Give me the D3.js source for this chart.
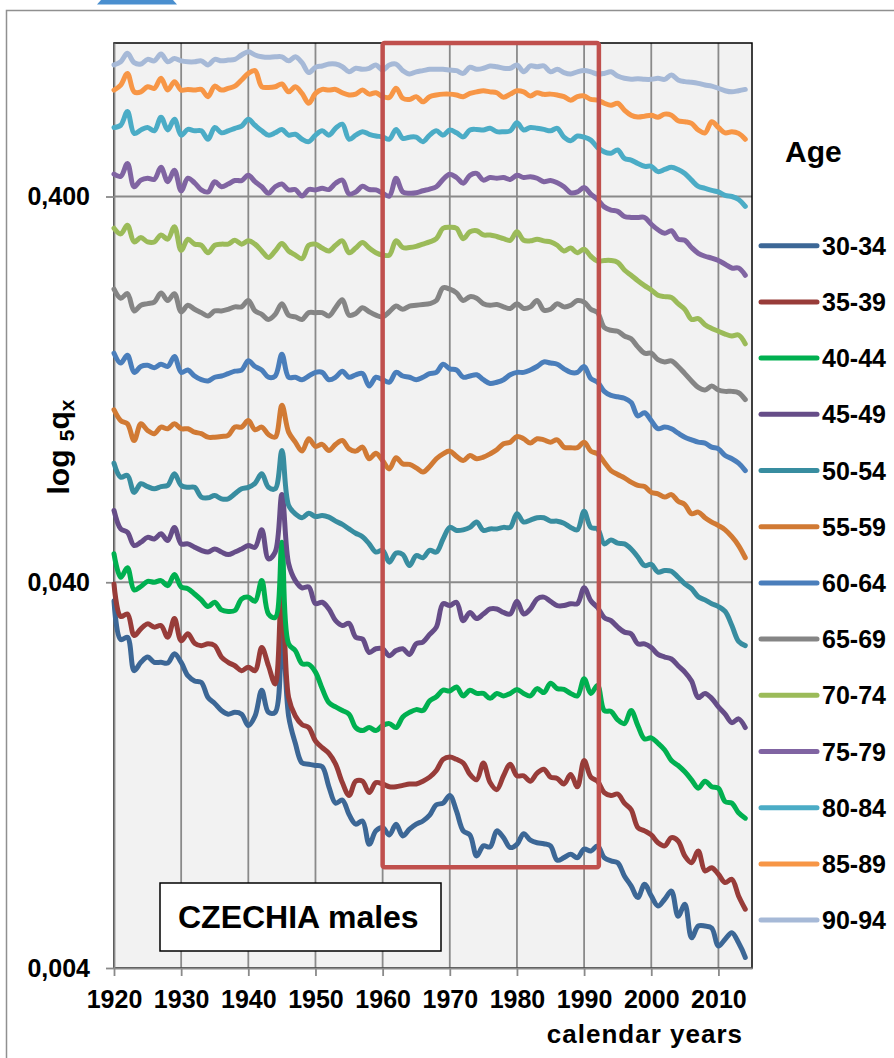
<!DOCTYPE html>
<html>
<head>
<meta charset="utf-8">
<script src="https://cdn.jsdelivr.net/npm/d3@7"></script>
<style>
  html, body { margin: 0; padding: 0; background: #fff; overflow: hidden; }
  svg { display: block; }
  text { font-family: "Liberation Sans", Arial, sans-serif; font-weight: bold; fill: #000; }
</style>
</head>
<body>
<svg id="chart" width="894" height="1058"></svg>
<script>
// probability of dying 5qx, Czechia males, one value per year 1920..2014
const firstYear = 1920, lastYear = 2014;
const years = d3.range(firstYear, lastYear + 1);
const ageGroups = ["30-34", "35-39", "40-44", "45-49", "50-54", "55-59", "60-64", "65-69", "70-74", "75-79", "80-84", "85-89", "90-94"];

const q30_34 = [0.0358, 0.0284, 0.0288, 0.0236, 0.0248, 0.0256, 0.0248, 0.0248, 0.0247, 0.0261,
  0.0248, 0.0229, 0.0222, 0.0220, 0.0201, 0.0194, 0.0186, 0.0182, 0.0184, 0.0182,
  0.0170, 0.0180, 0.0210, 0.0184, 0.0184, 0.0318, 0.0180, 0.0153, 0.0136, 0.0135,
  0.0134, 0.0133, 0.0118, 0.0107, 0.0109, 0.0100, 0.00944, 0.00962, 0.00837, 0.00907,
  0.00925, 0.00885, 0.00944, 0.00880, 0.00916, 0.00944, 0.00962, 0.00996, 0.0106, 0.0107,
  0.0112, 0.0102, 0.00907, 0.00885, 0.00781, 0.00829, 0.00824, 0.00907, 0.00871, 0.00821,
  0.00837, 0.00892, 0.00858, 0.00845, 0.00840, 0.00829, 0.00761, 0.00773, 0.00789, 0.00773,
  0.00813, 0.00804, 0.00829, 0.00773, 0.00758, 0.00750, 0.00693, 0.00653, 0.00609, 0.00659,
  0.00615, 0.00579, 0.00603, 0.00633, 0.00545, 0.00585, 0.00479, 0.00514, 0.00514, 0.00508,
  0.00456, 0.00475, 0.00494, 0.00465, 0.00426];
const q35_39 = [0.0396, 0.0326, 0.0331, 0.0291, 0.0303, 0.0312, 0.0306, 0.0309, 0.0288, 0.0322,
  0.0282, 0.0294, 0.0278, 0.0274, 0.0277, 0.0274, 0.0256, 0.0248, 0.0243, 0.0236,
  0.0241, 0.0236, 0.0271, 0.0243, 0.0218, 0.0396, 0.0201, 0.0180, 0.0171, 0.0168,
  0.0155, 0.0149, 0.0144, 0.0135, 0.0121, 0.0112, 0.0122, 0.0122, 0.0114, 0.0121,
  0.0120, 0.0118, 0.0118, 0.0119, 0.0120, 0.0120, 0.0122, 0.0125, 0.0130, 0.0139,
  0.0141, 0.0139, 0.0136, 0.0127, 0.0123, 0.0136, 0.0121, 0.0116, 0.0126, 0.0135,
  0.0126, 0.0126, 0.0122, 0.0128, 0.0131, 0.0125, 0.0124, 0.0120, 0.0127, 0.0118,
  0.0138, 0.0125, 0.0122, 0.0114, 0.0112, 0.0113, 0.0107, 0.0103, 0.00925, 0.00907,
  0.00885, 0.00845, 0.00829, 0.00871, 0.00854, 0.00781, 0.00750, 0.00804, 0.00714, 0.00728,
  0.00700, 0.00666, 0.00679, 0.00615, 0.00568];
const q40_44 = [0.0474, 0.0412, 0.0436, 0.0382, 0.0390, 0.0402, 0.0400, 0.0404, 0.0392, 0.0419,
  0.0389, 0.0385, 0.0373, 0.0360, 0.0346, 0.0355, 0.0339, 0.0336, 0.0338, 0.0362,
  0.0366, 0.0357, 0.0404, 0.0331, 0.0324, 0.0508, 0.0277, 0.0266, 0.0246, 0.0245,
  0.0234, 0.0212, 0.0195, 0.0190, 0.0186, 0.0182, 0.0168, 0.0165, 0.0168, 0.0165,
  0.0170, 0.0172, 0.0168, 0.0179, 0.0184, 0.0187, 0.0186, 0.0197, 0.0202, 0.0210,
  0.0209, 0.0214, 0.0203, 0.0210, 0.0206, 0.0206, 0.0200, 0.0206, 0.0203, 0.0206,
  0.0211, 0.0206, 0.0203, 0.0212, 0.0207, 0.0219, 0.0212, 0.0211, 0.0206, 0.0203,
  0.0225, 0.0206, 0.0216, 0.0186, 0.0185, 0.0176, 0.0172, 0.0186, 0.0170, 0.0157,
  0.0158, 0.0153, 0.0147, 0.0138, 0.0134, 0.0129, 0.0123, 0.0117, 0.0122, 0.0118,
  0.0117, 0.0108, 0.0107, 0.0101, 0.00978];
const q45_49 = [0.0614, 0.0550, 0.0539, 0.0498, 0.0508, 0.0523, 0.0518, 0.0534, 0.0513, 0.0555,
  0.0503, 0.0503, 0.0493, 0.0484, 0.0479, 0.0488, 0.0479, 0.0472, 0.0479, 0.0488,
  0.0498, 0.0493, 0.0547, 0.0460, 0.0479, 0.0675, 0.0447, 0.0404, 0.0387, 0.0389,
  0.0352, 0.0355, 0.0341, 0.0318, 0.0309, 0.0313, 0.0288, 0.0285, 0.0263, 0.0269,
  0.0269, 0.0258, 0.0266, 0.0269, 0.0260, 0.0277, 0.0280, 0.0293, 0.0306, 0.0352,
  0.0348, 0.0355, 0.0318, 0.0334, 0.0322, 0.0331, 0.0341, 0.0341, 0.0334, 0.0331,
  0.0357, 0.0331, 0.0341, 0.0362, 0.0366, 0.0357, 0.0348, 0.0348, 0.0352, 0.0352,
  0.0387, 0.0358, 0.0344, 0.0324, 0.0318, 0.0306, 0.0297, 0.0294, 0.0277, 0.0277,
  0.0271, 0.0260, 0.0256, 0.0253, 0.0243, 0.0234, 0.0222, 0.0201, 0.0206, 0.0200,
  0.0190, 0.0182, 0.0173, 0.0177, 0.0168];
const q50_54 = [0.0814, 0.0749, 0.0757, 0.0684, 0.0720, 0.0708, 0.0699, 0.0708, 0.0713, 0.0764,
  0.0713, 0.0705, 0.0705, 0.0665, 0.0662, 0.0671, 0.0658, 0.0658, 0.0678, 0.0699,
  0.0705, 0.0722, 0.0764, 0.0705, 0.0699, 0.0878, 0.0633, 0.0602, 0.0588, 0.0604,
  0.0592, 0.0596, 0.0590, 0.0576, 0.0565, 0.0550, 0.0536, 0.0525, 0.0503, 0.0479,
  0.0484, 0.0451, 0.0476, 0.0472, 0.0442, 0.0469, 0.0463, 0.0484, 0.0479, 0.0518,
  0.0555, 0.0545, 0.0547, 0.0555, 0.0573, 0.0545, 0.0550, 0.0550, 0.0555, 0.0555,
  0.0602, 0.0573, 0.0580, 0.0588, 0.0588, 0.0576, 0.0576, 0.0569, 0.0555, 0.0547,
  0.0611, 0.0555, 0.0550, 0.0503, 0.0515, 0.0505, 0.0503, 0.0488, 0.0465, 0.0442,
  0.0445, 0.0425, 0.0429, 0.0427, 0.0412, 0.0396, 0.0385, 0.0367, 0.0360, 0.0352,
  0.0346, 0.0336, 0.0309, 0.0281, 0.0274];
const q55_59 = [0.112, 0.105, 0.103, 0.0932, 0.103, 0.0990, 0.0971, 0.101, 0.100, 0.103,
  0.100, 0.100, 0.0980, 0.0971, 0.0951, 0.0951, 0.0955, 0.0961, 0.101, 0.101,
  0.105, 0.0994, 0.101, 0.0966, 0.0951, 0.115, 0.0980, 0.0923, 0.0875, 0.0942,
  0.0900, 0.0911, 0.0878, 0.0911, 0.0932, 0.0887, 0.0875, 0.0896, 0.0836, 0.0864,
  0.0827, 0.0787, 0.0841, 0.0811, 0.0808, 0.0792, 0.0772, 0.0798, 0.0836, 0.0861,
  0.0875, 0.0848, 0.0827, 0.0852, 0.0836, 0.0844, 0.0861, 0.0882, 0.0914, 0.0923,
  0.0955, 0.0942, 0.0918, 0.0942, 0.0936, 0.0923, 0.0936, 0.0896, 0.0893, 0.0893,
  0.0923, 0.0875, 0.0861, 0.0819, 0.0779, 0.0761, 0.0746, 0.0727, 0.0713, 0.0708,
  0.0684, 0.0678, 0.0665, 0.0675, 0.0649, 0.0636, 0.0602, 0.0608, 0.0588, 0.0573,
  0.0561, 0.0547, 0.0525, 0.0498, 0.0463];
const q60_64 = [0.157, 0.148, 0.155, 0.140, 0.145, 0.146, 0.144, 0.147, 0.145, 0.154,
  0.140, 0.142, 0.137, 0.134, 0.133, 0.136, 0.137, 0.139, 0.141, 0.142,
  0.150, 0.145, 0.142, 0.136, 0.137, 0.156, 0.136, 0.136, 0.134, 0.137,
  0.140, 0.140, 0.134, 0.136, 0.141, 0.136, 0.138, 0.139, 0.129, 0.136,
  0.134, 0.132, 0.140, 0.137, 0.136, 0.134, 0.136, 0.139, 0.140, 0.147,
  0.143, 0.142, 0.136, 0.137, 0.138, 0.134, 0.131, 0.132, 0.134, 0.138,
  0.140, 0.140, 0.142, 0.145, 0.149, 0.148, 0.147, 0.143, 0.140, 0.140,
  0.145, 0.135, 0.132, 0.125, 0.122, 0.121, 0.120, 0.117, 0.108, 0.110,
  0.105, 0.100, 0.101, 0.100, 0.0974, 0.0951, 0.0936, 0.0923, 0.0918, 0.0896,
  0.0887, 0.0852, 0.0836, 0.0814, 0.0779];
const q65_69 = [0.230, 0.218, 0.224, 0.202, 0.209, 0.211, 0.213, 0.225, 0.215, 0.224,
  0.201, 0.209, 0.204, 0.200, 0.196, 0.202, 0.202, 0.204, 0.207, 0.207,
  0.215, 0.202, 0.198, 0.192, 0.198, 0.211, 0.197, 0.195, 0.192, 0.200,
  0.200, 0.200, 0.196, 0.206, 0.216, 0.197, 0.199, 0.206, 0.201, 0.197,
  0.195, 0.201, 0.208, 0.204, 0.208, 0.209, 0.210, 0.211, 0.215, 0.232,
  0.230, 0.225, 0.215, 0.220, 0.218, 0.211, 0.209, 0.210, 0.207, 0.205,
  0.211, 0.205, 0.207, 0.215, 0.203, 0.204, 0.211, 0.207, 0.209, 0.215,
  0.213, 0.204, 0.200, 0.183, 0.180, 0.179, 0.174, 0.171, 0.163, 0.157,
  0.157, 0.151, 0.149, 0.150, 0.145, 0.139, 0.133, 0.128, 0.126, 0.129,
  0.126, 0.125, 0.125, 0.124, 0.119];
const q70_74 = [0.331, 0.320, 0.337, 0.305, 0.313, 0.305, 0.305, 0.318, 0.310, 0.334,
  0.290, 0.310, 0.301, 0.299, 0.286, 0.299, 0.301, 0.301, 0.308, 0.301,
  0.307, 0.301, 0.289, 0.278, 0.289, 0.302, 0.289, 0.282, 0.276, 0.299,
  0.301, 0.294, 0.289, 0.299, 0.307, 0.286, 0.294, 0.304, 0.294, 0.286,
  0.282, 0.282, 0.307, 0.295, 0.295, 0.297, 0.301, 0.305, 0.311, 0.331,
  0.333, 0.331, 0.311, 0.324, 0.326, 0.318, 0.318, 0.315, 0.311, 0.308,
  0.324, 0.308, 0.307, 0.310, 0.307, 0.305, 0.299, 0.289, 0.294, 0.286,
  0.292, 0.280, 0.272, 0.273, 0.273, 0.270, 0.258, 0.250, 0.242, 0.235,
  0.229, 0.222, 0.220, 0.219, 0.211, 0.204, 0.192, 0.193, 0.186, 0.182,
  0.179, 0.176, 0.174, 0.175, 0.166];
const q75_79 = [0.457, 0.451, 0.487, 0.424, 0.441, 0.446, 0.443, 0.476, 0.437, 0.468,
  0.414, 0.446, 0.434, 0.416, 0.411, 0.437, 0.424, 0.431, 0.440, 0.440,
  0.454, 0.437, 0.424, 0.408, 0.424, 0.431, 0.416, 0.417, 0.401, 0.417,
  0.416, 0.420, 0.417, 0.433, 0.441, 0.406, 0.411, 0.425, 0.417, 0.416,
  0.408, 0.401, 0.446, 0.411, 0.408, 0.409, 0.414, 0.418, 0.424, 0.443,
  0.457, 0.448, 0.433, 0.454, 0.459, 0.441, 0.448, 0.446, 0.448, 0.443,
  0.454, 0.448, 0.450, 0.446, 0.437, 0.440, 0.434, 0.424, 0.409, 0.411,
  0.422, 0.406, 0.393, 0.376, 0.369, 0.366, 0.355, 0.353, 0.353, 0.353,
  0.339, 0.328, 0.321, 0.326, 0.310, 0.308, 0.295, 0.285, 0.280, 0.277,
  0.273, 0.267, 0.261, 0.261, 0.250];
const q80_84 = [0.604, 0.612, 0.664, 0.583, 0.595, 0.604, 0.592, 0.642, 0.595, 0.634,
  0.577, 0.597, 0.592, 0.592, 0.563, 0.604, 0.585, 0.592, 0.601, 0.609,
  0.634, 0.612, 0.592, 0.577, 0.585, 0.597, 0.577, 0.580, 0.563, 0.555,
  0.577, 0.592, 0.577, 0.601, 0.616, 0.563, 0.577, 0.589, 0.580, 0.574,
  0.571, 0.563, 0.597, 0.566, 0.570, 0.570, 0.555, 0.577, 0.592, 0.577,
  0.595, 0.585, 0.571, 0.595, 0.597, 0.595, 0.601, 0.589, 0.589, 0.592,
  0.621, 0.595, 0.604, 0.601, 0.597, 0.592, 0.601, 0.570, 0.558, 0.574,
  0.570, 0.560, 0.536, 0.522, 0.518, 0.528, 0.502, 0.497, 0.487, 0.479,
  0.479, 0.464, 0.470, 0.476, 0.470, 0.459, 0.441, 0.425, 0.420, 0.415,
  0.411, 0.403, 0.400, 0.393, 0.377];
const q85_89 = [0.755, 0.778, 0.834, 0.747, 0.747, 0.770, 0.763, 0.810, 0.755, 0.794,
  0.755, 0.758, 0.755, 0.758, 0.726, 0.773, 0.755, 0.763, 0.773, 0.802,
  0.834, 0.848, 0.770, 0.767, 0.770, 0.783, 0.747, 0.770, 0.740, 0.698,
  0.740, 0.758, 0.755, 0.758, 0.743, 0.733, 0.737, 0.755, 0.737, 0.743,
  0.726, 0.723, 0.763, 0.719, 0.714, 0.726, 0.704, 0.726, 0.733, 0.737,
  0.737, 0.733, 0.726, 0.740, 0.747, 0.752, 0.747, 0.743, 0.723, 0.737,
  0.752, 0.747, 0.729, 0.743, 0.736, 0.737, 0.733, 0.726, 0.711, 0.726,
  0.729, 0.714, 0.711, 0.698, 0.690, 0.698, 0.670, 0.650, 0.643, 0.646,
  0.650, 0.642, 0.654, 0.650, 0.629, 0.625, 0.619, 0.595, 0.585, 0.625,
  0.604, 0.585, 0.589, 0.583, 0.563];
const q90_94 = [0.877, 0.894, 0.940, 0.889, 0.882, 0.907, 0.899, 0.936, 0.894, 0.912,
  0.899, 0.894, 0.894, 0.899, 0.877, 0.907, 0.899, 0.903, 0.907, 0.931,
  0.949, 0.931, 0.921, 0.918, 0.921, 0.921, 0.899, 0.921, 0.889, 0.838,
  0.865, 0.872, 0.882, 0.882, 0.868, 0.842, 0.860, 0.855, 0.860, 0.877,
  0.851, 0.877, 0.882, 0.848, 0.831, 0.842, 0.848, 0.855, 0.855, 0.855,
  0.851, 0.848, 0.834, 0.865, 0.855, 0.860, 0.872, 0.868, 0.860, 0.860,
  0.877, 0.842, 0.872, 0.868, 0.872, 0.842, 0.855, 0.838, 0.831, 0.842,
  0.848, 0.842, 0.831, 0.834, 0.842, 0.821, 0.810, 0.806, 0.808, 0.805,
  0.805, 0.810, 0.805, 0.826, 0.802, 0.794, 0.791, 0.786, 0.778, 0.773,
  0.763, 0.752, 0.747, 0.752, 0.758];

const seriesValues = [q30_34, q35_39, q40_44, q45_49, q50_54, q55_59, q60_64, q65_69, q70_74, q75_79, q80_84, q85_89, q90_94];
const colors = ["#3c6796", "#983c39", "#00b050", "#664d88", "#388da0", "#d17a34", "#4a7ebb", "#858585", "#9bbb59", "#8064a2", "#4bacc6", "#f79646", "#a6b9d7"];

const yTicks = [0.004, 0.04, 0.4];
const xTicks = d3.range(1920, 2011, 10);
// highlighted period 1960-1992 (red frame)
const frameYears = [1960, 1992.2];
const frameValues = [1, 0.0073];

const svg = d3.select("#chart");
const margin = { top: 43, left: 114 },
  innerWidth = 638,
  innerHeight = 925;

// outer chart frame (only top and left edge are inside the picture) + piece of the header shape
svg.append("path").attr("d", "M101,0 L173,0 L177,4.5 L97,4.5 Z").attr("fill", "#4a8fcf");
svg.append("path").attr("d", "M6.5,1058 V10.5 H894")
  .attr("fill", "none").attr("stroke", "#909090").attr("stroke-width", 1.5);

const group = svg.append("g").attr("transform", `translate(${margin.left}, ${margin.top})`);

const x_scale = d3.scaleLinear().domain([1920, 2015]).range([0, innerWidth]);
const y_scale = d3.scaleLog().domain([0.004, 1]).range([innerHeight, 0]);

group.append("rect").attr("width", innerWidth).attr("height", innerHeight).attr("fill", "#f2f2f2");

// grid
group.selectAll(".vgrid").data(xTicks.slice(1)).join("line").attr("class", "vgrid")
  .attr("x1", d => x_scale(d)).attr("x2", d => x_scale(d)).attr("y1", 0).attr("y2", innerHeight)
  .attr("stroke", "#8a8a8a").attr("stroke-width", 1.8);
group.selectAll(".hgrid").data(yTicks.slice(1)).join("line").attr("class", "hgrid")
  .attr("x1", 0).attr("x2", innerWidth).attr("y1", d => y_scale(d)).attr("y2", d => y_scale(d))
  .attr("stroke", "#8a8a8a").attr("stroke-width", 1.8);

group.append("rect").attr("width", innerWidth).attr("height", innerHeight)
  .attr("fill", "none").attr("stroke", "#000").attr("stroke-width", 1.5);

// axes
const xAxis = group.append("g").attr("transform", `translate(0, ${innerHeight})`)
  .call(d3.axisBottom(x_scale).tickValues(xTicks).tickFormat(d3.format("d")).tickSize(8).tickSizeOuter(0).tickPadding(14));
const yAxis = group.append("g")
  .call(d3.axisLeft(y_scale).tickValues(yTicks).tickFormat(d => d3.format(".3f")(d).replace(".", ",")).tickSize(8).tickSizeOuter(0).tickPadding(16));
[xAxis, yAxis].forEach(a => {
  a.attr("font-family", null).attr("font-size", null);
  a.select(".domain").attr("stroke", "#8a8a8a").attr("stroke-width", 1.8);
  a.selectAll(".tick line").attr("stroke", "#8a8a8a").attr("stroke-width", 1.8);
  a.selectAll("text").attr("font-size", 25).attr("fill", "#000");
});

// series, smoothed like the spreadsheet lines
const lineGenerator = d3.line().x((d, i) => x_scale(years[i])).y(d => y_scale(d)).curve(d3.curveCatmullRom);
group.selectAll(".series").data(seriesValues).join("path").attr("class", "series")
  .attr("d", d => lineGenerator(d)).attr("fill", "none")
  .attr("stroke", (d, i) => colors[i]).attr("stroke-width", 5)
  .attr("stroke-linejoin", "round").attr("stroke-linecap", "round");

// red frame
group.append("rect")
  .attr("x", x_scale(frameYears[0])).attr("y", y_scale(frameValues[0]))
  .attr("width", x_scale(frameYears[1]) - x_scale(frameYears[0]))
  .attr("height", y_scale(frameValues[1]) - y_scale(frameValues[0]))
  .attr("rx", 2).attr("fill", "none").attr("stroke", "#c0504d").attr("stroke-width", 4.5);

// label box
svg.append("rect").attr("x", 160).attr("y", 883).attr("width", 281).attr("height", 68)
  .attr("fill", "#fff").attr("stroke", "#000").attr("stroke-width", 1.5);
svg.append("text").attr("x", 178).attr("y", 928).attr("font-size", 32).text("CZECHIA males");

// axis titles
svg.append("text").attr("x", 743).attr("y", 1043).attr("text-anchor", "end")
  .attr("font-size", 26).attr("letter-spacing", 1).text("calendar years");
const yTitle = svg.append("text").attr("transform", "translate(69, 447) rotate(-90)")
  .attr("text-anchor", "middle").attr("font-size", 30);
yTitle.append("tspan").text("log ");
yTitle.append("tspan").attr("font-size", 21).attr("dy", 5).text("5");
yTitle.append("tspan").attr("dy", -5).text("q");
yTitle.append("tspan").attr("font-size", 21).attr("dy", 5).text("x");

// legend
svg.append("text").attr("x", 785).attr("y", 162).attr("font-size", 30).text("Age");
const legend = svg.selectAll(".legenditem").data(ageGroups).join("g").attr("class", "legenditem")
  .attr("transform", (d, i) => `translate(0, ${245.7 + i * 56.2})`);
legend.append("line").attr("x1", 761).attr("x2", 817)
  .attr("stroke", (d, i) => colors[i]).attr("stroke-width", 5).attr("stroke-linecap", "round");
legend.append("text").attr("x", 822).attr("y", 9).attr("font-size", 25).text(d => d);
</script>
</body>
</html>
